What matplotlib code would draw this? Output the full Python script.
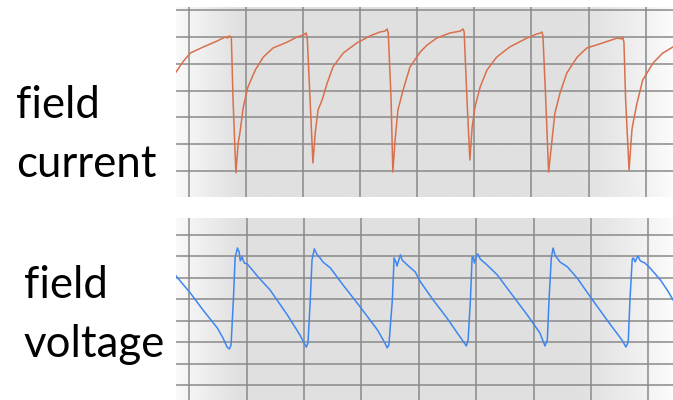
import numpy as np
import matplotlib
matplotlib.use('Agg')
import matplotlib.pyplot as plt

plt.rcParams['font.family'] = 'Lato'

# field current trace, in grid divisions (x: time div, y: amplitude div)
current_t = [-0.23, -0.11, 0.02, 0.25, 0.49, 0.63, 0.67, 0.70, 0.74, 0.77, 0.82, 0.86, 0.89, 0.95,
             1.03, 1.16, 1.30, 1.47, 1.72, 1.89, 2.00, 2.05, 2.07, 2.12, 2.17, 2.21, 2.26, 2.33,
             2.42, 2.52, 2.70, 2.94, 3.17, 3.35, 3.43, 3.47, 3.49, 3.54, 3.57, 3.61, 3.66, 3.75,
             3.87, 4.05, 4.17, 4.34, 4.57, 4.75, 4.80, 4.82, 4.87, 4.92, 4.96, 5.01, 5.10, 5.22,
             5.39, 5.62, 5.92, 6.09, 6.16, 6.18, 6.20, 6.25, 6.30, 6.36, 6.41, 6.50, 6.62, 6.80,
             6.97, 7.25, 7.50, 7.58, 7.60, 7.62, 7.65, 7.71, 7.76, 7.78, 7.85, 7.95, 8.13, 8.30, 8.48]
current_v = [3.69, 4.07, 4.40, 4.63, 4.85, 5.00, 4.96, 5.04, 5.00, 2.65, -0.07, 1.04, 1.42, 2.39,
             3.13, 3.77, 4.25, 4.59, 4.81, 5.00, 5.07, 5.15, 5.00, 2.65, 0.30, 1.42, 2.28, 2.65,
             3.28, 3.88, 4.40, 4.78, 5.04, 5.19, 5.22, 5.30, 5.15, 2.65, -0.04, 1.16, 2.28, 3.02,
             3.88, 4.44, 4.70, 4.96, 5.15, 5.22, 5.30, 5.19, 2.65, 0.41, 1.64, 2.39, 3.13, 3.77,
             4.25, 4.63, 4.96, 5.11, 5.15, 5.19, 5.07, 2.65, -0.04, 1.16, 2.16, 2.91, 3.66, 4.25,
             4.59, 4.78, 4.96, 4.93, 5.00, 4.81, 2.65, 0.04, 1.53, 1.79, 2.54, 3.40, 4.03, 4.40, 4.63]

# field voltage trace
voltage_t = [-0.23, 0.02, 0.24, 0.49, 0.59, 0.66, 0.70, 0.73, 0.77, 0.80, 0.84, 0.87, 0.89, 0.92,
             0.96, 1.01, 1.10, 1.20, 1.41, 1.71, 1.93, 2.00, 2.04, 2.07, 2.11, 2.14, 2.18, 2.23,
             2.28, 2.33, 2.46, 2.68, 2.98, 3.28, 3.41, 3.45, 3.48, 3.54, 3.57, 3.61, 3.62, 3.68,
             3.71, 3.80, 3.94, 4.02, 4.25, 4.49, 4.72, 4.83, 4.86, 4.90, 4.93, 4.95, 4.97, 5.00,
             5.03, 5.07, 5.19, 5.37, 5.59, 5.89, 6.11, 6.20, 6.24, 6.27, 6.31, 6.34, 6.38, 6.41,
             6.46, 6.59, 6.76, 6.99, 7.28, 7.54, 7.61, 7.65, 7.68, 7.72, 7.74, 7.77, 7.80, 7.82,
             7.86, 7.94, 8.03, 8.21, 8.33, 8.43]
voltage_v = [5.09, 4.29, 3.50, 2.66, 2.19, 1.77, 1.68, 1.87, 3.97, 5.93, 6.39, 6.21, 5.79, 5.97,
             5.69, 5.65, 5.37, 5.04, 4.43, 3.27, 2.33, 1.96, 1.77, 1.96, 3.97, 5.83, 6.35, 6.07,
             5.93, 5.74, 5.46, 4.67, 3.64, 2.57, 1.96, 1.73, 1.87, 3.97, 5.93, 5.69, 5.55, 6.07,
             5.83, 5.60, 5.27, 4.85, 3.97, 3.13, 2.24, 1.82, 2.10, 3.97, 5.97, 5.97, 5.69, 5.97,
             6.11, 5.88, 5.60, 5.13, 4.34, 3.27, 2.43, 1.82, 2.10, 3.97, 5.93, 6.39, 6.02, 5.93,
             5.74, 5.51, 4.99, 4.11, 3.03, 2.10, 1.77, 2.01, 3.97, 5.88, 5.93, 5.74, 5.93, 6.02,
             5.79, 5.69, 5.46, 4.90, 4.43, 3.97]

x_divs = list(range(0, 9))
top_divs = list(range(0, 7))
bottom_divs = list(range(0, 8))


def scope_background(ax):
    # light on the left, grey middle, fading out on the right
    u = np.linspace(0, 1, 400)
    shade = np.full_like(u, 0.875)
    left = u < 0.13
    shade[left] = 0.975 - (0.975 - 0.875) * (u[left] / 0.13)
    right = u > 0.80
    shade[right] = 0.875 + (0.985 - 0.875) * ((u[right] - 0.80) / 0.20) ** 1.3
    img = np.tile(shade, (10, 1))
    ax.imshow(img, cmap='gray', vmin=0, vmax=1, aspect='auto',
              extent=[0, 1, 0, 1], transform=ax.transAxes, zorder=0)


def style(ax, xlim, ylim, ydivs):
    ax.set_xlim(xlim)
    ax.set_ylim(ylim)
    for v in x_divs:
        ax.axvline(v, color='#8a8a8a', lw=1.3, alpha=0.85, zorder=1)
    for v in ydivs:
        ax.axhline(v, color='#8a8a8a', lw=1.3, alpha=0.85, zorder=1)
    for s in ax.spines.values():
        s.set_visible(False)
    ax.set_xticks([])
    ax.set_yticks([])


fig = plt.figure(figsize=(6.73, 4.0), dpi=100)

ax1 = fig.add_axes([0.2615, 0.5075, 0.7385, 0.475])
scope_background(ax1)
style(ax1, (-0.23, 8.48), (-0.97, 6.12), top_divs)
ax1.plot(current_t, current_v, color='#d9704c', lw=1.1, zorder=3)

ax2 = fig.add_axes([0.2615, 0.0, 0.7385, 0.455])
scope_background(ax2)
style(ax2, (-0.23, 8.43), (-0.70, 7.79), bottom_divs)
ax2.plot(voltage_t, voltage_v, color='#3d86f2', lw=1.1, zorder=3)

fs = 31.5
fig.text(16 / 673, 1 - 118 / 400, 'field', fontsize=fs, va='baseline', ha='left')
fig.text(16 / 673, 1 - 177 / 400, 'current', fontsize=fs, va='baseline', ha='left')
fig.text(24 / 673, 1 - 298 / 400, 'field', fontsize=fs, va='baseline', ha='left')
fig.text(24 / 673, 1 - 357 / 400, 'voltage', fontsize=fs, va='baseline', ha='left')

fig.savefig('out.png', dpi=100, facecolor='white')
